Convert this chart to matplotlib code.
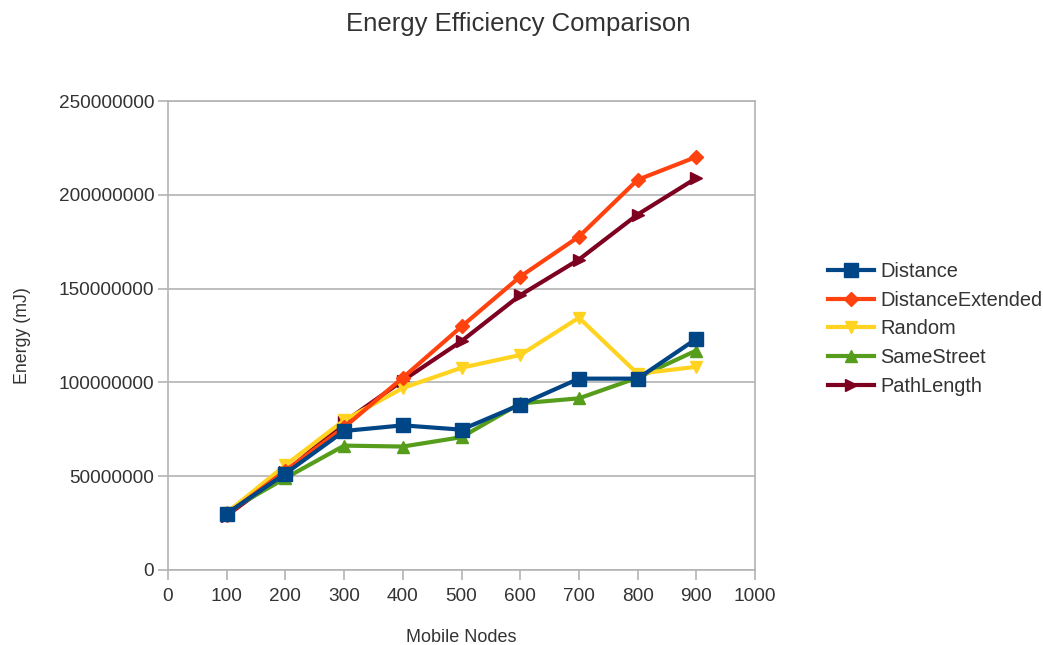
import matplotlib.pyplot as plt
import matplotlib.ticker as mticker

# -----------------------------
# Data
# -----------------------------
nodes = [100, 200, 300, 400, 500, 600, 700, 800, 900]

distance          = [30.1e6, 51.4e6, 74.1e6, 77.1e6, 74.8e6, 88.1e6, 102.0e6, 102.0e6, 123.2e6]
distance_extended = [29.5e6, 53.0e6, 76.0e6, 102.5e6, 129.8e6, 156.4e6, 177.7e6, 208.0e6, 220.2e6]
random_sel        = [30.5e6, 55.9e6, 79.8e6, 97.0e6, 107.8e6, 114.6e6, 134.5e6, 104.6e6, 108.3e6]
same_street       = [31.0e6, 49.0e6, 66.3e6, 65.8e6, 70.8e6, 88.8e6, 91.5e6, 102.5e6, 117.0e6]
path_length       = [29.0e6, 52.0e6, 78.9e6, 101.0e6, 122.0e6, 146.5e6, 165.5e6, 189.5e6, 208.9e6]

series = [
    ("Distance",         distance,          "#004586", "s"),
    ("DistanceExtended", distance_extended, "#ff420e", "D"),
    ("Random",           random_sel,        "#ffd320", "v"),
    ("SameStreet",       same_street,       "#579d1c", "^"),
    ("PathLength",       path_length,       "#7e0021", ">"),
]

plt.rcParams["font.family"] = ["Liberation Sans", "DejaVu Sans"]
TEXT = "#333333"
GRID = "#b3b3b3"

# -----------------------------
# Plot
# -----------------------------
fig = plt.figure(figsize=(10.43, 6.45), dpi=100)
ax = fig.add_axes([0.1611, 0.1163, 0.5628, 0.7271])

# draw in reverse so Distance ends on top
handles = {}
for name, vals, color, marker in reversed(series):
    ms = {"s": 10, "D": 7.5}.get(marker, 9)
    (h,) = ax.plot(nodes, vals, color=color, marker=marker, markersize=ms,
                   linewidth=3, label=name, clip_on=False)
    handles[name] = h

ax.set_xlim(0, 1000)
ax.set_ylim(0, 250000000)
ax.set_xticks(range(0, 1001, 100))
ax.set_yticks(range(0, 250000001, 50000000))
ax.yaxis.set_major_formatter(mticker.FuncFormatter(lambda v, _: f"{int(v)}"))

ax.grid(True, axis="y", color=GRID, linewidth=1.2)
ax.set_axisbelow(True)
for sp in ax.spines.values():
    sp.set_color(GRID)
    sp.set_linewidth(1.2)
ax.tick_params(axis="both", direction="out", length=7, width=1.2,
               color=GRID, labelcolor=TEXT, labelsize=13.7)
ax.tick_params(axis="y", pad=3)
ax.tick_params(axis="x", pad=6)

ax.set_xlabel("Mobile Nodes", fontsize=13, color=TEXT, labelpad=17)
ax.set_ylabel("Energy (mJ)", fontsize=12.8, color=TEXT, labelpad=20)
fig.text(0.497, 1 - 24 / 645, "Energy Efficiency Comparison",
         fontsize=18.5, color=TEXT, ha="center", va="center")

order = [s[0] for s in series]
leg = ax.legend([handles[n] for n in order], order,
                loc="center left", bbox_to_anchor=(1.125, 0.514),
                borderpad=0, borderaxespad=0,
                frameon=False, fontsize=14.4, handlelength=2.3,
                labelspacing=0.48, handletextpad=0.3)
for t in leg.get_texts():
    t.set_color(TEXT)

fig.savefig("out.png", dpi=100)
plt.close(fig)
